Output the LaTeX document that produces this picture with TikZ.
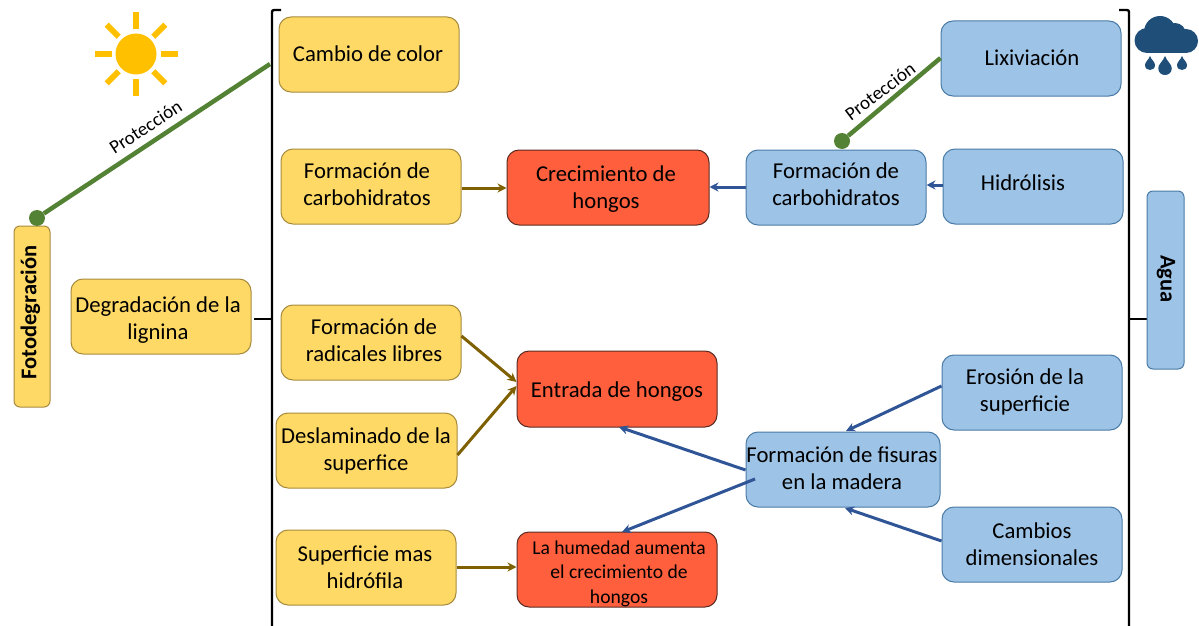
\documentclass[tikz,border=0pt]{standalone}
\usepackage{fontspec}
\setmainfont{Carlito}
\usetikzlibrary{arrows.meta,calc}
\definecolor{yfill}{HTML}{FFD966}
\definecolor{ydraw}{HTML}{A68B3C}
\definecolor{bfill}{HTML}{9DC3E6}
\definecolor{bdraw}{HTML}{4A7BA6}
\definecolor{rfill}{HTML}{FF5F3D}
\definecolor{rdraw}{HTML}{5A2B22}
\definecolor{gline}{HTML}{548235}
\definecolor{oline}{HTML}{7F6000}
\definecolor{bline}{HTML}{2F5597}
\definecolor{sunc}{HTML}{FFC000}
\definecolor{cloudc}{HTML}{1F4E79}
\tikzset{
  box/.style={rounded corners=12pt,line width=1pt,inner sep=0pt,minimum width=180pt,minimum height=75pt},
  ybox/.style={box,draw=ydraw,fill=yfill},
  bbox/.style={box,draw=bdraw,fill=bfill},
  rbox/.style={box,draw=rdraw,fill=rfill,minimum width=200pt},
  txt/.style={align=center,inner sep=0pt,font=\fontsize{22.7}{27}\selectfont},
  vtxt/.style={inner sep=0pt,font=\fontsize{22.5}{25}\selectfont\bfseries},
  small/.style={font=\fontsize{19.6}{24.5}\selectfont},
  oarr/.style={draw=oline,line width=3pt,-{Stealth[length=9pt,width=9pt]}},
  barr/.style={draw=bline,line width=3pt,-{Stealth[length=9pt,width=9pt]}},
  gln/.style={draw=gline,line width=4.5pt},
  gdot/.style={circle,fill=gline,inner sep=0pt,minimum size=16pt},
  brk/.style={draw=black,line width=2.4pt,rounded corners=2pt},
  lab/.style={font=\fontsize{19}{21}\selectfont,inner sep=0pt},
  ray/.style={draw=sunc,line width=6pt}
}
\begin{document}
\begin{tikzpicture}[x=1pt,y=-1pt]
\useasboundingbox (0,0) rectangle (1199,626);
% brackets
\coordinate (lt) at (272,319);
\coordinate (rt) at (1129,319);
\draw[brk] (281,10) -- (272,10) -- (272,626);
\draw[brk] (254,319) -- (lt);
\draw[brk] (1119,10) -- (1129,10) -- (1129,626);
\draw[brk] (rt) -- (1151,319);
% yellow
\node[ybox] (cambio) at (369,54.5) {};
\node[txt] (cambio-t) at (368,54) {Cambio de color};
\node[ybox] (carbL) at (371,186.5) {};
\node[txt] (carbL-t) at (367,184) {Formación de\\carbohidratos};
\node[ybox] (degr) at (161,316.5) {};
\node[txt] (degr-t) at (158,320) {Degradación de la\\lignina};
\node[ybox,rounded corners=6pt,minimum width=36pt,minimum height=181pt] (foto) at (32,316.5) {};
\node[vtxt,rotate=90] (foto-t) at (30.5,312.5) {Fotodegración};
\node[ybox] (radi) at (371,342.5) {};
\node[txt] (radi-t) at (374,340.5) {Formación de\\radicales libres};
\node[ybox,minimum width=181pt] (desl) at (366.5,450.5) {};
\node[txt] (desl-t) at (366,451) {Deslaminado de la\\superfice};
\node[ybox] (sup) at (366,567.5) {};
\node[txt] (sup-t) at (365,567.5) {Superficie mas\\hidrófila};
% red
\node[rbox,minimum width=202pt] (crec) at (608,187.5) {};
\node[txt] (crec-t) at (606,189.5) {Crecimiento de\\hongos};
\node[rbox,minimum height=76pt] (entr) at (617,389) {};
\node[txt] (entr-t) at (617,391.5) {Entrada de hongos};
\node[rbox] (hum) at (617,569.5) {};
\node[txt,small] (hum-t) at (619,573.5) {La humedad aumenta\\el crecimiento de\\hongos};
% blue
\node[bbox] (lixi) at (1031,58.5) {};
\node[txt] (lixi-t) at (1032,58) {Lixiviación};
\node[bbox] (carbR) at (836,187.5) {};
\node[txt] (carbR-t) at (836,184.5) {Formación de\\carbohidratos};
\node[bbox] (hidr) at (1033,186.5) {};
\node[txt] (hidr-t) at (1023,183) {Hidrólisis};
\node[bbox,rounded corners=6pt,minimum width=37pt,minimum height=178pt] (agua) at (1165.5,280) {};
\node[vtxt,rotate=-90] (agua-t) at (1166,279) {Agua};
\node[bbox] (eros) at (1032,392.5) {};
\node[txt] (eros-t) at (1025,391.5) {Erosión de la\\superficie};
\node[bbox,minimum width=194pt] (fisu) at (843,469.5) {};
\node[txt] (fisu-t) at (842,468.5) {Formación de fisuras\\en la madera};
\node[bbox] (cdim) at (1032,544.5) {};
\node[txt] (cdim-t) at (1032,544) {Cambios\\dimensionales};
% olive arrows
\draw[oarr] (carbL.east |- 0,188) -- (crec.west |- 0,188);
\draw[oarr] (radi.east |- 0,336) -- (entr.west |- 0,382);
\draw[oarr] (desl.east |- 0,455) -- (entr.west |- 0,386);
\draw[oarr] (sup.east |- 0,567) -- (hum.west |- 0,567);
% blue arrows
\draw[barr] (carbR.west |- 0,187) -- (crec.east |- 0,187);
\draw[barr] (hidr.west |- 0,185) -- (carbR.east |- 0,185);
\draw[barr] (eros.west |- 0,386) -- (846,431);
\draw[barr] (cdim.west |- 0,541) -- (845,508);
\draw[barr] (fisu.west |- 0,470) -- (619,427);
\draw[barr] (755,479) -- (622,532);
% green protection lines
\node[gdot] (dotL) at (37,218) {};
\coordinate (endL) at (270,64);
\draw[gln] (dotL) -- (endL);
\node[gdot] (dotR) at (842,141) {};
\draw[gln] (dotR) -- (lixi.west |- 0,58);
\node[lab,rotate=33] (protL) at (145.5,127) {Protección};
\node[lab,rotate=37] (protR) at (880,91.5) {Protección};
% sun
\fill[sunc] (136,54) circle[radius=20.5pt];
\foreach \a in {0,45,...,315}{
  \draw[ray] ($(136,54)+(\a:24.5pt)$) -- ($(136,54)+(\a:41.5pt)$);
}
% cloud
\fill[cloudc] (1147,40.5) circle[radius=12.5pt];
\fill[cloudc] (1160,32) circle[radius=16pt];
\fill[cloudc] (1175,34) circle[radius=11pt];
\fill[cloudc] (1186,41) circle[radius=12pt];
\fill[cloudc] (1147,40) rectangle (1186,53);
\foreach \x/\y/\s in {1150/63/1,1165/65.5/1.35,1182/63/1}{
  \fill[cloudc,shift={(\x,\y)},scale=\s] (0,-7) .. controls (1.5,-3) and (5,-1) .. (5,2) .. controls (5,5.5) and (2.5,7) .. (0,7) .. controls (-2.5,7) and (-5,5.5) .. (-5,2) .. controls (-5,-1) and (-1.5,-3) .. (0,-7) -- cycle;
}
\end{tikzpicture}
\end{document}
